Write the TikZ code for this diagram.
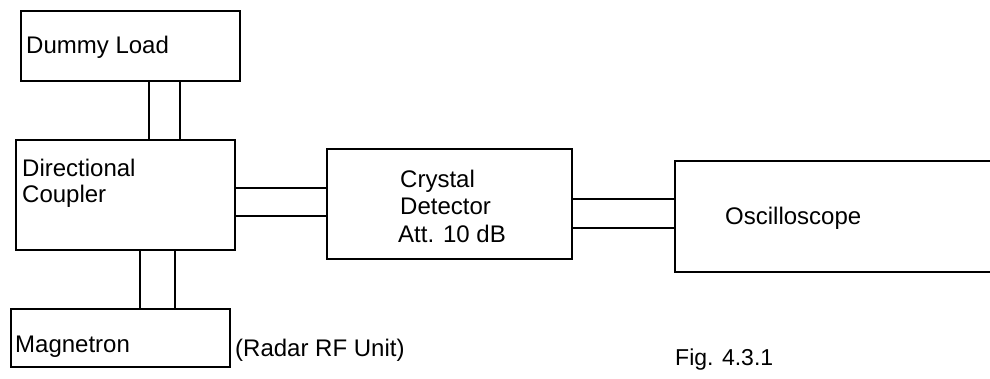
\documentclass[tikz,border=0pt]{standalone}
\usepackage{fontspec}
\setmainfont{Liberation Sans}
\begin{document}
\begin{tikzpicture}[x=1pt,y=-1pt,
  box/.style={draw, line width=2pt, inner sep=0pt},
  wg/.style={line width=2pt},
  lbl/.style={anchor=base west, inner sep=0pt, font=\fontsize{24}{28}\selectfont}]
\useasboundingbox (0,0) rectangle (990,379);
% boxes
\node[box, minimum width=219pt, minimum height=70pt] (dummy) at (130.5,46) {};
\node[box, minimum width=219pt, minimum height=110pt] (dc) at (125.5,195) {};
\node[box, minimum width=219pt, minimum height=58pt] (mag) at (120.5,338) {};
\node[box, minimum width=245pt, minimum height=110pt] (crys) at (449.5,204) {};
\node[box, minimum width=330pt, minimum height=111pt] (osc) at (840,216.5) {};
% labels
\node[lbl] (tdummy) at (26,54) {Dummy Load};
\node[lbl] (tdc1) at (22,177) {Directional};
\node[lbl] (tdc2) at (22,203) {Coupler};
\node[lbl] (tmag) at (15,352) {Magnetron};
\node[lbl] (trf) at (235,356) {(Radar RF Unit)};
\node[lbl] (tc1) at (400,188) {Crystal};
\node[lbl] (tc2) at (400,215) {Detector};
\node[lbl] (tc3) at (398,243) {Att. 10 dB};
\node[lbl] (tosc) at (725,225) {Oscilloscope};
\node[lbl, font=\fontsize{23}{27}\selectfont] (tfig) at (675,365) {Fig. 4.3.1};
% waveguides
\draw[wg] ([xshift=18.5pt]dummy.south) -- ([xshift=18.5pt]dummy.south |- dc.north);
\draw[wg] ([xshift=49.5pt]dummy.south) -- ([xshift=49.5pt]dummy.south |- dc.north);
\draw[wg] ([xshift=14.5pt]dc.south) -- ([xshift=14.5pt]dc.south |- mag.north);
\draw[wg] ([xshift=49.5pt]dc.south) -- ([xshift=49.5pt]dc.south |- mag.north);
\draw[wg] ([yshift=7pt]dc.east) -- ([yshift=7pt]dc.east -| crys.west);
\draw[wg] ([yshift=-21pt]dc.east) -- ([yshift=-21pt]dc.east -| crys.west);
\draw[wg] ([yshift=5pt]crys.east) -- ([yshift=5pt]crys.east -| osc.west);
\draw[wg] ([yshift=-24pt]crys.east) -- ([yshift=-24pt]crys.east -| osc.west);
\end{tikzpicture}
\end{document}
